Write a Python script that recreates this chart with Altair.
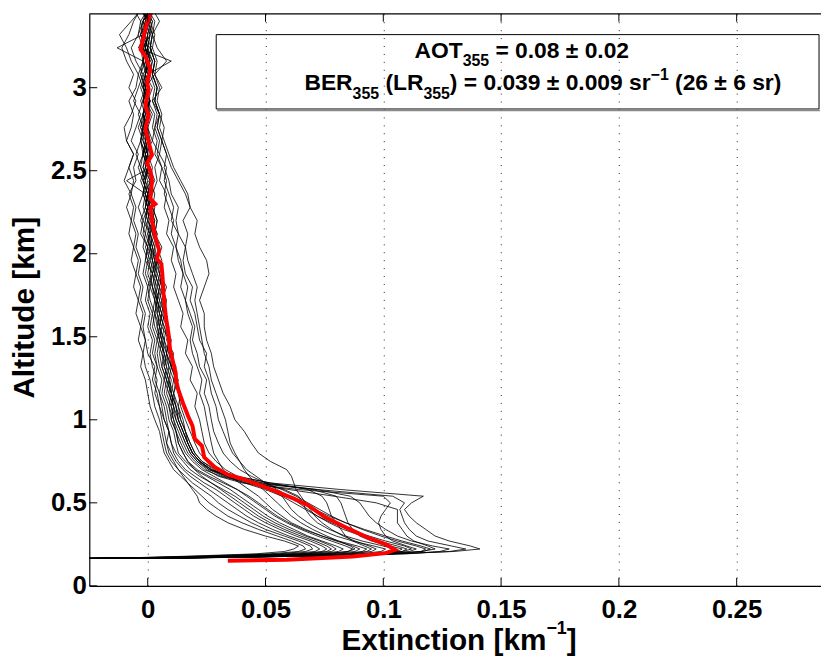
import altair as alt
import pandas as pd

# ---------------- data ----------------
ALT_LOW = [0.162, 0.168, 0.180, 0.193, 0.207, 0.222, 0.24, 0.27, 0.30, 0.34, 0.38, 0.42,
           0.46, 0.50, 0.54, 0.58, 0.62, 0.66, 0.70, 0.75, 0.80, 0.86, 0.93]
ALT_HIGH = [1.00, 1.08, 1.16, 1.24, 1.32, 1.40, 1.48, 1.56, 1.64, 1.72, 1.80, 1.88, 1.96,
            2.04, 2.12, 2.20, 2.28, 2.36, 2.44, 2.52, 2.60, 2.68, 2.76, 2.84, 2.92, 3.00,
            3.08, 3.16, 3.24, 3.32, 3.40, 3.45]

PROFILES_LOW = [
    [-0.06, 0.004, 0.058, 0.104, 0.130, 0.141, 0.137, 0.128, 0.122, 0.118, 0.114, 0.111, 0.109, 0.112, 0.117, 0.082, 0.052, 0.037, 0.030, 0.025, 0.022, 0.020, 0.018],
    [-0.06, 0.008, 0.066, 0.108, 0.128, 0.135, 0.129, 0.119, 0.114, 0.111, 0.109, 0.108, 0.107, 0.109, 0.104, 0.072, 0.044, 0.032, 0.026, 0.022, 0.019, 0.017, 0.015],
    [-0.06, 0.014, 0.074, 0.110, 0.124, 0.128, 0.121, 0.112, 0.106, 0.101, 0.097, 0.094, 0.092, 0.090, 0.086, 0.072, 0.049, 0.035, 0.027, 0.022, 0.019, 0.017, 0.015],
    [-0.06, 0.010, 0.062, 0.098, 0.116, 0.122, 0.119, 0.113, 0.110, 0.108, 0.106, 0.106, 0.106, 0.097, 0.079, 0.060, 0.044, 0.034, 0.028, 0.023, 0.020, 0.018, 0.016],
    [-0.06, 0.016, 0.072, 0.104, 0.116, 0.118, 0.114, 0.106, 0.099, 0.091, 0.084, 0.078, 0.073, 0.068, 0.063, 0.057, 0.050, 0.044, 0.039, 0.035, 0.032, 0.030, 0.028],
    [-0.06, 0.012, 0.064, 0.098, 0.111, 0.114, 0.110, 0.104, 0.101, 0.099, 0.098, 0.099, 0.101, 0.103, 0.100, 0.064, 0.040, 0.030, 0.025, 0.021, 0.018, 0.016, 0.014],
    [-0.06, 0.018, 0.070, 0.098, 0.108, 0.110, 0.106, 0.098, 0.091, 0.083, 0.077, 0.072, 0.068, 0.064, 0.060, 0.055, 0.050, 0.046, 0.042, 0.039, 0.036, 0.034, 0.032],
    [-0.06, 0.020, 0.072, 0.098, 0.106, 0.108, 0.103, 0.095, 0.090, 0.087, 0.085, 0.084, 0.083, 0.082, 0.080, 0.070, 0.048, 0.034, 0.027, 0.022, 0.019, 0.017, 0.015],
    [-0.06, 0.015, 0.066, 0.094, 0.103, 0.105, 0.100, 0.091, 0.084, 0.077, 0.072, 0.069, 0.067, 0.066, 0.064, 0.058, 0.046, 0.034, 0.026, 0.021, 0.018, 0.016, 0.014],
    [-0.06, 0.010, 0.060, 0.090, 0.099, 0.101, 0.096, 0.087, 0.080, 0.073, 0.068, 0.064, 0.061, 0.059, 0.057, 0.052, 0.042, 0.031, 0.024, 0.020, 0.017, 0.015, 0.013],
    [-0.06, 0.012, 0.058, 0.086, 0.095, 0.097, 0.094, 0.088, 0.083, 0.078, 0.074, 0.071, 0.069, 0.067, 0.065, 0.063, 0.062, 0.061, 0.059, 0.052, 0.047, 0.044, 0.041],
    [-0.06, 0.008, 0.054, 0.082, 0.091, 0.093, 0.089, 0.081, 0.074, 0.066, 0.060, 0.055, 0.051, 0.047, 0.043, 0.038, 0.032, 0.026, 0.021, 0.017, 0.015, 0.013, 0.012],
    [-0.06, 0.006, 0.050, 0.078, 0.088, 0.090, 0.087, 0.080, 0.074, 0.067, 0.061, 0.057, 0.053, 0.050, 0.047, 0.043, 0.039, 0.035, 0.032, 0.030, 0.028, 0.027, 0.026],
    [-0.06, 0.004, 0.048, 0.076, 0.085, 0.087, 0.084, 0.078, 0.072, 0.065, 0.059, 0.054, 0.050, 0.046, 0.042, 0.038, 0.033, 0.028, 0.023, 0.019, 0.016, 0.014, 0.012],
    [-0.06, 0.002, 0.044, 0.072, 0.081, 0.083, 0.080, 0.074, 0.068, 0.062, 0.056, 0.051, 0.047, 0.043, 0.039, 0.035, 0.030, 0.025, 0.020, 0.016, 0.013, 0.012, 0.011],
    [-0.06, 0.000, 0.040, 0.068, 0.078, 0.080, 0.078, 0.073, 0.067, 0.060, 0.054, 0.049, 0.045, 0.041, 0.037, 0.032, 0.027, 0.022, 0.018, 0.015, 0.012, 0.010, 0.009],
    [-0.06, -0.002, 0.036, 0.064, 0.074, 0.076, 0.074, 0.069, 0.063, 0.056, 0.050, 0.045, 0.041, 0.037, 0.033, 0.029, 0.024, 0.020, 0.016, 0.013, 0.011, 0.010, 0.009],
    [-0.06, -0.004, 0.032, 0.060, 0.071, 0.073, 0.071, 0.066, 0.060, 0.053, 0.047, 0.042, 0.038, 0.034, 0.030, 0.026, 0.022, 0.018, 0.015, 0.012, 0.010, 0.008, 0.007],
    [-0.06, -0.006, 0.028, 0.056, 0.067, 0.070, 0.069, 0.064, 0.058, 0.050, 0.044, 0.039, 0.034, 0.030, 0.027, 0.023, 0.019, 0.016, 0.013, 0.010, 0.008, 0.007, 0.006],
    [-0.06, -0.008, 0.024, 0.052, 0.064, 0.067, 0.066, 0.061, 0.055, 0.047, 0.040, 0.034, 0.030, 0.026, 0.023, 0.020, 0.017, 0.014, 0.011, 0.009, 0.007, 0.006, 0.005],
    [-0.06, -0.010, 0.020, 0.046, 0.058, 0.062, 0.064, 0.058, 0.050, 0.041, 0.034, 0.029, 0.025, 0.022, 0.021, 0.019, 0.017, 0.015, 0.013, 0.011, 0.009, 0.008, 0.009],
    [-0.06, 0.004, 0.046, 0.074, 0.085, 0.088, 0.086, 0.081, 0.076, 0.070, 0.065, 0.061, 0.058, 0.055, 0.052, 0.049, 0.046, 0.043, 0.041, 0.039, 0.037, 0.035, 0.034],
    [-0.06, 0.014, 0.066, 0.096, 0.108, 0.112, 0.109, 0.101, 0.094, 0.085, 0.078, 0.072, 0.067, 0.062, 0.057, 0.050, 0.041, 0.033, 0.027, 0.022, 0.019, 0.017, 0.016],
    [-0.06, 0.006, 0.052, 0.084, 0.093, 0.095, 0.092, 0.087, 0.084, 0.082, 0.080, 0.078, 0.077, 0.076, 0.074, 0.068, 0.052, 0.038, 0.029, 0.023, 0.020, 0.018, 0.016],
    [-0.06, -0.003, 0.038, 0.066, 0.076, 0.078, 0.076, 0.071, 0.065, 0.058, 0.052, 0.047, 0.043, 0.039, 0.035, 0.031, 0.027, 0.023, 0.020, 0.017, 0.015, 0.013, 0.012],
    [-0.06, 0.012, 0.070, 0.104, 0.117, 0.120, 0.116, 0.108, 0.101, 0.092, 0.084, 0.077, 0.071, 0.065, 0.059, 0.052, 0.045, 0.038, 0.033, 0.029, 0.026, 0.024, 0.023],
]

PROFILES_HIGH = [
    [0.016, 0.014, 0.013, 0.011, 0.012, 0.009, 0.010, 0.008, 0.007, 0.008, 0.006, 0.005, 0.006, 0.004, 0.003, 0.004, 0.002, 0.003, 0.001, 0.002, 0.000, 0.001, -0.001, 0.001, 0.000, -0.002, 0.001, 0.000, -0.001, 0.000, 0.002, 0.000],
    [0.013, 0.012, 0.010, 0.011, 0.009, 0.008, 0.009, 0.006, 0.007, 0.005, 0.006, 0.004, 0.003, 0.005, 0.002, 0.003, 0.001, 0.000, 0.002, -0.001, 0.001, 0.000, -0.002, 0.000, 0.001, -0.001, 0.000, 0.002, -0.001, 0.000, -0.002, 0.001],
    [0.013, 0.011, 0.010, 0.008, 0.009, 0.007, 0.006, 0.007, 0.005, 0.004, 0.005, 0.003, 0.004, 0.002, 0.001, 0.003, 0.000, 0.002, 0.004, 0.003, 0.005, 0.002, 0.003, 0.005, 0.002, 0.006, 0.003, 0.008, 0.004, 0.002, 0.005, 0.003],
    [0.014, 0.013, 0.011, 0.012, 0.010, 0.009, 0.007, 0.008, 0.006, 0.007, 0.005, 0.006, 0.004, 0.003, 0.004, 0.002, 0.003, 0.001, 0.002, 0.000, -0.001, 0.001, 0.000, 0.002, -0.001, 0.000, 0.001, -0.001, 0.000, 0.001, -0.001, 0.001],
    [0.027, 0.026, 0.024, 0.025, 0.022, 0.021, 0.019, 0.020, 0.018, 0.016, 0.017, 0.015, 0.014, 0.012, 0.013, 0.010, 0.011, 0.009, 0.007, 0.008, 0.005, 0.006, 0.004, 0.005, 0.003, 0.004, 0.002, 0.003, 0.001, 0.002, 0.000, 0.001],
    [0.012, 0.010, 0.011, 0.009, 0.007, 0.008, 0.006, 0.005, 0.006, 0.004, 0.003, 0.004, 0.002, 0.001, 0.003, 0.000, 0.001, -0.001, -0.009, 0.001, -0.002, -0.001, 0.000, -0.002, -0.001, 0.000, -0.002, 0.001, -0.001, -0.003, 0.000, -0.001],
    [0.030, 0.029, 0.027, 0.026, 0.024, 0.025, 0.022, 0.021, 0.020, 0.018, 0.019, 0.016, 0.015, 0.016, 0.013, 0.012, 0.013, 0.010, 0.009, 0.007, 0.008, 0.006, 0.004, 0.005, 0.003, 0.004, 0.002, 0.003, 0.001, 0.002, 0.003, 0.001],
    [0.013, 0.012, 0.010, 0.009, 0.010, 0.008, 0.007, 0.005, 0.006, 0.004, 0.005, 0.003, 0.002, 0.003, 0.001, 0.002, 0.000, 0.001, -0.001, 0.000, -0.002, 0.000, -0.001, 0.001, -0.002, 0.000, -0.001, -0.002, 0.000, -0.001, 0.001, -0.002],
    [0.012, 0.011, 0.009, 0.010, 0.008, 0.007, 0.005, 0.006, 0.004, 0.005, 0.003, 0.002, 0.004, 0.001, 0.002, 0.000, 0.001, -0.001, 0.001, -0.002, 0.000, -0.001, 0.000, -0.002, 0.001, -0.001, 0.000, 0.010, -0.004, -0.001, 0.000, -0.001],
    [0.011, 0.010, 0.008, 0.009, 0.007, 0.006, 0.007, 0.005, 0.004, 0.003, 0.004, 0.002, 0.003, 0.001, 0.000, 0.002, -0.001, 0.000, 0.001, -0.001, 0.000, -0.002, -0.001, 0.000, -0.002, 0.000, -0.001, 0.001, -0.001, 0.000, -0.002, 0.000],
    [0.037, 0.035, 0.032, 0.030, 0.028, 0.027, 0.025, 0.024, 0.024, 0.022, 0.024, 0.026, 0.025, 0.022, 0.020, 0.021, 0.018, 0.017, 0.014, 0.011, 0.009, 0.007, 0.005, 0.006, 0.004, 0.005, 0.003, 0.004, 0.002, 0.003, 0.001, 0.002],
    [0.011, 0.009, 0.010, 0.008, 0.006, 0.007, 0.005, 0.004, 0.005, 0.003, 0.002, 0.003, 0.001, 0.002, 0.000, 0.001, -0.001, 0.000, -0.002, 0.000, -0.001, -0.003, -0.002, -0.001, 0.000, -0.002, -0.001, 0.000, -0.002, -0.001, 0.000, -0.002],
    [0.025, 0.024, 0.022, 0.023, 0.021, 0.019, 0.018, 0.019, 0.017, 0.016, 0.014, 0.015, 0.013, 0.012, 0.010, 0.011, 0.009, 0.007, 0.008, 0.006, 0.004, 0.005, 0.003, 0.004, 0.002, 0.003, 0.001, 0.002, 0.000, 0.001, 0.002, 0.000],
    [0.010, 0.009, 0.007, 0.008, 0.006, 0.005, 0.006, 0.004, 0.003, 0.004, 0.002, 0.001, 0.002, 0.000, 0.001, -0.001, 0.000, -0.002, -0.001, 0.000, -0.002, -0.003, -0.001, -0.002, 0.000, -0.001, -0.003, -0.001, 0.000, -0.002, -0.001, 0.000],
    [0.009, 0.008, 0.006, 0.007, 0.005, 0.004, 0.005, 0.003, 0.002, 0.003, 0.001, 0.002, 0.000, 0.001, -0.001, 0.000, -0.002, -0.001, 0.000, -0.002, -0.001, -0.003, -0.002, 0.000, -0.002, -0.001, 0.000, -0.002, -0.003, -0.001, 0.000, -0.002],
    [0.008, 0.007, 0.005, 0.006, 0.004, 0.003, 0.004, 0.002, 0.003, 0.001, 0.000, 0.002, -0.001, 0.000, -0.002, -0.001, 0.000, -0.002, -0.001, -0.003, -0.002, 0.000, -0.002, -0.001, -0.003, -0.001, 0.000, -0.002, -0.001, -0.003, -0.001, 0.000],
    [0.007, 0.006, 0.005, 0.003, 0.004, 0.002, 0.003, 0.001, 0.002, 0.000, 0.001, -0.001, 0.000, -0.002, -0.001, -0.003, -0.001, 0.000, -0.002, -0.004, -0.002, -0.001, -0.003, -0.002, 0.000, -0.002, -0.004, -0.002, -0.001, -0.003, -0.002, -0.001],
    [0.006, 0.005, 0.003, 0.004, 0.002, 0.001, 0.002, 0.000, 0.001, -0.001, 0.000, -0.002, -0.001, 0.000, -0.003, -0.002, -0.004, -0.002, -0.001, -0.003, -0.005, -0.003, -0.002, -0.004, -0.002, -0.001, -0.003, -0.002, -0.013, -0.002, -0.003, -0.001],
    [0.005, 0.003, 0.002, 0.001, -0.001, -0.002, -0.001, -0.003, -0.002, -0.004, -0.003, -0.005, -0.004, -0.006, -0.005, -0.007, -0.006, -0.008, -0.005, -0.006, -0.004, -0.007, -0.005, -0.003, -0.006, -0.004, -0.002, -0.005, -0.007, -0.004, -0.003, -0.005],
    [0.003, 0.001, 0.000, -0.001, -0.003, -0.002, -0.004, -0.003, -0.005, -0.004, -0.006, -0.005, -0.007, -0.006, -0.008, -0.007, -0.009, -0.007, -0.010, -0.008, -0.006, -0.009, -0.010, -0.007, -0.005, -0.008, -0.006, -0.009, -0.011, -0.008, -0.006, -0.004],
    [0.007, 0.005, 0.004, 0.002, 0.003, 0.000, -0.001, -0.002, -0.001, -0.003, -0.002, -0.004, -0.003, -0.005, -0.004, -0.006, -0.005, -0.007, -0.006, -0.008, -0.006, -0.009, -0.007, -0.006, -0.008, -0.005, -0.004, -0.007, -0.009, -0.012, -0.007, -0.004],
    [0.033, 0.031, 0.029, 0.027, 0.026, 0.024, 0.023, 0.022, 0.021, 0.020, 0.021, 0.019, 0.017, 0.016, 0.017, 0.015, 0.018, 0.016, 0.013, 0.010, 0.008, 0.006, 0.007, 0.005, 0.003, 0.004, 0.002, 0.003, 0.001, 0.002, 0.000, 0.001],
    [0.015, 0.013, 0.014, 0.012, 0.010, 0.011, 0.008, 0.009, 0.007, 0.006, 0.008, 0.005, 0.004, 0.006, 0.003, 0.004, 0.002, 0.000, 0.003, 0.001, -0.001, 0.002, 0.000, -0.002, 0.001, -0.001, 0.003, 0.000, -0.002, 0.001, -0.001, 0.002],
    [0.014, 0.012, 0.011, 0.013, 0.010, 0.008, 0.009, 0.007, 0.005, 0.006, 0.004, 0.005, 0.003, 0.002, 0.004, 0.001, 0.002, 0.000, -0.002, 0.001, -0.001, 0.000, -0.003, -0.001, 0.001, -0.002, 0.000, -0.001, 0.002, -0.002, 0.000, -0.001],
    [0.010, 0.011, 0.009, 0.007, 0.008, 0.006, 0.004, 0.005, 0.003, 0.004, 0.002, 0.000, 0.001, -0.001, 0.001, -0.002, 0.000, -0.001, -0.003, -0.001, 0.000, -0.002, -0.004, -0.002, -0.001, -0.003, -0.001, 0.000, -0.002, -0.004, -0.002, 0.000],
    [0.022, 0.020, 0.021, 0.018, 0.019, 0.016, 0.017, 0.014, 0.015, 0.013, 0.011, 0.012, 0.010, 0.011, 0.008, 0.009, 0.007, 0.008, 0.005, 0.006, 0.003, 0.004, 0.002, 0.003, 0.000, 0.002, -0.001, 0.001, 0.000, -0.002, 0.001, 0.000],
]

MEAN_ALT = [0.151, 0.157, 0.177, 0.197, 0.217, 0.250, 0.287, 0.346, 0.416, 0.486, 0.525, 0.589,
            0.645, 0.669, 0.714, 0.774, 0.844, 0.884, 0.963, 1.02, 1.10, 1.18, 1.24, 1.28,
            1.34, 1.42, 1.52, 1.62, 1.76, 1.86, 1.94, 1.97, 2.02, 2.10, 2.20, 2.28, 2.30,
            2.33, 2.44, 2.50, 2.545, 2.595, 2.71, 2.754, 2.83, 2.89, 2.99, 3.03, 3.11, 3.19,
            3.23, 3.31, 3.39, 3.445]
MEAN_EXT = [0.034, 0.059, 0.087, 0.101, 0.105, 0.101, 0.094, 0.085, 0.075, 0.068, 0.062, 0.051,
            0.040, 0.034, 0.0285, 0.024, 0.023, 0.020, 0.019, 0.0172, 0.015, 0.013, 0.012, 0.0119,
            0.0109, 0.0095, 0.0088, 0.0077, 0.0067, 0.0063, 0.0058, 0.0039, 0.0049, 0.0032, 0.0018, 0.0011, 0.0032,
            0.0011, 0.0018, 0.0011, -0.0003, 0.0018, -0.0003, -0.001, 0.0004, -0.001, 0.0004, -0.0003, 0.0011, -0.001,
            -0.003, -0.0017, -0.0003, 0.0011]

X_TICKS = [0, 0.05, 0.1, 0.15, 0.2, 0.25]
Y_TICKS = [0, 0.5, 1, 1.5, 2, 2.5, 3]
X_DOMAIN = [-0.0248, 0.2858]
Y_DOMAIN = [0, 3.445]

LINE1 = [("AOT", "n"), ("355", "sub"), (" = 0.08 ± 0.02", "n")]
LINE2 = [("BER", "n"), ("355", "sub"), (" (LR", "n"), ("355", "sub"), (")", "n"),
         (" = 0.039 ± 0.009 sr", "n"), ("−1", "sup"), (" (26 ± 6 sr)", "n")]
XTITLE = [("Extinction [km", "n"), ("−1", "sup"), ("]", "n")]
YTITLE = "Altitude [km]"

# ---------------- layout ----------------
W, H = 738, 577
FONT = "Liberation Sans"

# Arial/Liberation Sans Bold advance widths (per 1000 em)
ADV = {" ": 278, "(": 333, ")": 333, ".": 278, "=": 584, "±": 549, "−": 584, "[": 333, "]": 333,
       "A": 722, "B": 722, "E": 667, "L": 611, "O": 778, "R": 722, "T": 611,
       "s": 556, "r": 389, "k": 556, "m": 889, "x": 556, "t": 333, "i": 278, "n": 611,
       "c": 556, "o": 611}


def text_width(t, size):
    return sum(ADV.get(ch, 556) for ch in t) * size / 1000.0


assert all(len(p) == len(ALT_LOW) for p in PROFILES_LOW)
assert all(len(p) == len(ALT_HIGH) for p in PROFILES_HIGH)
assert len(PROFILES_LOW) == len(PROFILES_HIGH)
assert len(MEAN_ALT) == len(MEAN_EXT)

rows = []
alts = ALT_LOW + ALT_HIGH
for i, (lo, hi) in enumerate(zip(PROFILES_LOW, PROFILES_HIGH)):
    for j, (a, v) in enumerate(zip(alts, lo + hi)):
        rows.append({"profile": i, "idx": j, "alt": a, "ext": v})
prof_df = pd.DataFrame(rows)
mean_df = pd.DataFrame({"idx": list(range(len(MEAN_ALT))), "alt": MEAN_ALT, "ext": MEAN_EXT})
xt_df = pd.DataFrame({"v": X_TICKS})
yt_df = pd.DataFrame({"v": Y_TICKS})
one = pd.DataFrame({"a": [0]})

xs = alt.Scale(domain=X_DOMAIN, nice=False, zero=False)
ys = alt.Scale(domain=Y_DOMAIN, nice=False, zero=False)

x_axis = alt.Axis(values=X_TICKS, format="~g", title=None, grid=True, gridDash=[1, 7],
                  gridColor="#222222", gridWidth=1, ticks=False, labelFont=FONT,
                  labelFontSize=26, labelFontWeight="bold", labelColor="black",
                  labelPadding=11, domainColor="black", domainWidth=1.2, labelFlush=False)
y_axis = alt.Axis(values=Y_TICKS, format="~g", title=YTITLE, grid=False, ticks=False,
                  labelFont=FONT, labelFontSize=26, labelFontWeight="bold", labelColor="black",
                  labelPadding=3, domainColor="black", domainWidth=1.2, labelFlush=False,
                  titleFont=FONT, titleFontSize=30, titleFontWeight="bold", titleColor="black",
                  titleAngle=270, titleX=-56, titleY=296, titleBaseline="alphabetic",
                  titleAlign="center")

X = lambda f: alt.X(f, scale=xs, axis=x_axis)
Y = lambda f: alt.Y(f, scale=ys, axis=y_axis)

profiles = alt.Chart(prof_df).mark_line(clip=True, color="black", strokeWidth=0.9, opacity=0.9).encode(
    x=X("ext:Q"), y=Y("alt:Q"), detail="profile:N", order="idx:Q")
mean = alt.Chart(mean_df).mark_line(clip=True, color="#ff0000", strokeWidth=4).encode(
    x=X("ext:Q"), y=Y("alt:Q"), order="idx:Q")

TL = 8
ticks_bottom = alt.Chart(xt_df).mark_rule(color="black", strokeWidth=1).encode(
    x=X("v:Q"), y=alt.value(H), y2=alt.value(H - TL))
ticks_top = alt.Chart(xt_df).mark_rule(color="black", strokeWidth=1).encode(
    x=X("v:Q"), y=alt.value(0), y2=alt.value(TL))
ticks_left = alt.Chart(yt_df).mark_rule(color="black", strokeWidth=1).encode(
    y=Y("v:Q"), x=alt.value(0), x2=alt.value(TL))
top_border = alt.Chart(one).mark_rule(color="black", strokeWidth=1.2).encode(
    x=alt.value(0), x2=alt.value(W), y=alt.value(0))

# annotation box (plot-relative pixels)
BX0, BX1, BY0, BY1 = 128, 736, 21, 96
box = alt.Chart(one).mark_rect(fillOpacity=0, stroke="black", strokeWidth=1).encode(
    x=alt.value(BX0), x2=alt.value(BX1), y=alt.value(BY0), y2=alt.value(BY1))
box_shadow = alt.Chart(one).mark_rule(color="#888888", strokeWidth=1.5).encode(
    x=alt.value(BX0 + 1), x2=alt.value(BX1 + 1), y=alt.value(BY1 + 1.5))


def rich_line(pieces, x0, base, size, sub_size, sub_dy, sup_size, sup_dy):
    layers = []
    x = x0
    for t, kind in pieces:
        fs = size if kind == "n" else (sub_size if kind == "sub" else sup_size)
        y = base + (sub_dy if kind == "sub" else (sup_dy if kind == "sup" else 0))
        lead = len(t) - len(t.lstrip(" "))
        x += text_width(" " * lead, fs)
        s = t.strip(" ")
        layers.append(alt.Chart(one).mark_text(
            font=FONT, fontWeight="bold", fontSize=fs, align="left", baseline="alphabetic",
            color="black").encode(x=alt.value(x), y=alt.value(y), text=alt.value(s)))
        x += text_width(s, fs)
    return layers


texts = []
texts += rich_line(LINE1, 328, 45, 23, 16, 8, 16, -9)
texts += rich_line(LINE2, 217, 77, 23, 16, 9, 16, -10)
xt_total = text_width(XTITLE[0][0], 30) + text_width("−1", 18) + text_width("]", 30)
texts += rich_line(XTITLE, W / 2 - xt_total / 2 + 4, H + 65, 30, 18, 8, 18, -16)

chart = alt.layer(profiles, mean, ticks_bottom, ticks_top, ticks_left, top_border,
                  box, box_shadow, *texts).properties(
    width=W, height=H, autosize="none",
    padding={"left": 82, "top": 3, "right": 0, "bottom": 80},
    background="white",
).configure_view(stroke=None)

chart.save("out.html", embed_options={"renderer": "svg", "actions": False})
